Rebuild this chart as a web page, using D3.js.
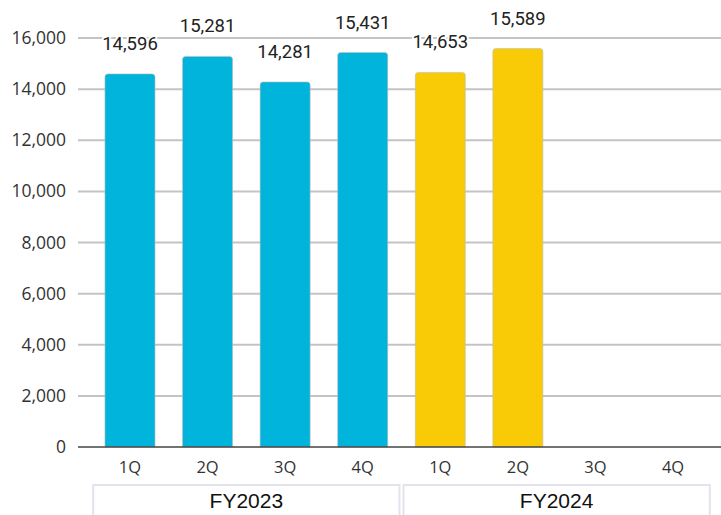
<!DOCTYPE html>
<html>
<head>
<meta charset="utf-8">
<script src="https://cdn.jsdelivr.net/npm/d3@7"></script>
<style>
  body { margin: 0; background: #fff; }
</style>
</head>
<body>
<div class="canvas"></div>
<script>
// data
const quarters = ["1Q", "2Q", "3Q", "4Q", "1Q", "2Q", "3Q", "4Q"];
const years = ["FY2023", "FY2023", "FY2023", "FY2023", "FY2024", "FY2024", "FY2024", "FY2024"];
const values = [14596, 15281, 14281, 15431, 14653, 15589, null, null];
const yTicks = [0, 2000, 4000, 6000, 8000, 10000, 12000, 14000, 16000];
const groups = ["FY2023", "FY2024"];
const colors = { FY2023: "#00b4dc", FY2024: "#f8cb06" };

const width = 721;
const height = 515;

const svg = d3
  .select(".canvas")
  .append("svg")
  .attr("width", width)
  .attr("height", height);

const plotLeft = 78;
const plotRight = 721;
const baseY = 447;
const topY = 38;

const y = d3.scaleLinear().domain([0, 16000]).range([baseY, topY]);
const x = d3
  .scaleBand()
  .domain(d3.range(quarters.length))
  .range([91, 712])
  .paddingInner(0.355)
  .paddingOuter(0.18);

// gridlines
svg
  .append("g")
  .selectAll("line")
  .data(yTicks.filter((d) => d > 0))
  .enter()
  .append("line")
  .attr("x1", plotLeft)
  .attr("x2", plotRight)
  .attr("y1", (d) => y(d))
  .attr("y2", (d) => y(d))
  .attr("stroke", "#c4c4c4")
  .attr("stroke-width", 2);

// y axis labels
const yAxis = d3
  .axisLeft(y)
  .tickValues(yTicks)
  .tickSize(0)
  .tickPadding(12)
  .tickFormat(d3.format(","));
const yAxisGroup = svg
  .append("g")
  .attr("transform", `translate(${plotLeft},0)`)
  .call(yAxis);
yAxisGroup.select(".domain").remove();
yAxisGroup
  .selectAll("text")
  .attr("font-family", "'Open Sans', sans-serif")
  .attr("font-size", 17.5)
  .attr("fill", "#333");

// bars with rounded top
const r = 3;
const barPath = (d, i) => {
  const x0 = x(i);
  const x1 = x0 + x.bandwidth();
  const y0 = y(d);
  return `M${x0},${baseY} L${x0},${y0 + r} Q${x0},${y0} ${x0 + r},${y0} L${x1 - r},${y0} Q${x1},${y0} ${x1},${y0 + r} L${x1},${baseY} Z`;
};

const barData = values.map((v, i) => ({ v, i })).filter((d) => d.v != null);

svg
  .append("g")
  .selectAll("path")
  .data(barData)
  .enter()
  .append("path")
  .attr("d", (d) => barPath(d.v, d.i))
  .attr("fill", (d) => colors[years[d.i]])
  .attr("stroke", "#bdbdbd")
  .attr("stroke-width", 0.6);

// baseline
svg
  .append("line")
  .attr("x1", plotLeft)
  .attr("x2", plotRight)
  .attr("y1", baseY)
  .attr("y2", baseY)
  .attr("stroke", "#444")
  .attr("stroke-width", 1.5);

// value labels
svg
  .append("g")
  .selectAll("text")
  .data(barData)
  .enter()
  .append("text")
  .text((d) => d3.format(",")(d.v))
  .attr("x", (d) => x(d.i) + x.bandwidth() / 2)
  .attr("y", (d) => y(d.v) - 24)
  .attr("text-anchor", "middle")
  .attr("font-family", "Roboto, sans-serif")
  .attr("font-size", 18.5)
  .attr("fill", "#222")
  .attr("stroke", "#fff")
  .attr("stroke-width", 4)
  .attr("stroke-linejoin", "round")
  .attr("paint-order", "stroke");

// quarter labels
const xAxis = d3
  .axisBottom(x)
  .tickSize(0)
  .tickPadding(14)
  .tickFormat((i) => quarters[i]);
const xAxisGroup = svg
  .append("g")
  .attr("transform", `translate(0,${baseY})`)
  .call(xAxis);
xAxisGroup.select(".domain").remove();
xAxisGroup
  .selectAll("text")
  .attr("font-family", "'Open Sans', sans-serif")
  .attr("font-size", 16.5)
  .attr("fill", "#333");

// group boxes
const groupBox = groups.map((g) => {
  const idx = years.map((yr, i) => (yr === g ? i : -1)).filter((i) => i >= 0);
  const step = x.step();
  const first = x(idx[0]) - (step - x.bandwidth()) / 2;
  const last = x(idx[idx.length - 1]) + x.bandwidth() + (step - x.bandwidth()) / 2;
  return { g, x0: first + 2, x1: last - 2 };
});

const boxes = svg.append("g").selectAll("g").data(groupBox).enter().append("g");
boxes
  .append("rect")
  .attr("x", (d) => d.x0)
  .attr("y", 485)
  .attr("width", (d) => d.x1 - d.x0)
  .attr("height", 40)
  .attr("fill", "none")
  .attr("stroke", "#e3e3ee")
  .attr("stroke-width", 2);
boxes
  .append("text")
  .text((d) => d.g)
  .attr("x", (d) => (d.x0 + d.x1) / 2)
  .attr("y", 508)
  .attr("text-anchor", "middle")
  .attr("font-family", "'Liberation Sans', Arial, sans-serif")
  .attr("font-size", 21)
  .attr("fill", "#111");
</script>
</body>
</html>
